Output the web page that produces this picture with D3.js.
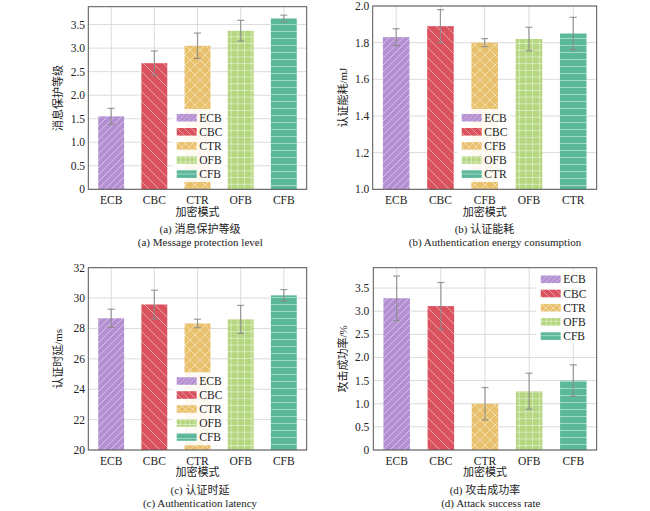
<!DOCTYPE html>
<html><head><meta charset="utf-8">
<script src="https://cdn.jsdelivr.net/npm/d3@7"></script>
<style>
body{margin:0;background:#fff;}
text{font-family:"Liberation Serif","Times New Roman","DejaVu Serif",serif;fill:#222;}
text.cjk{font-family:"Liberation Serif","Times New Roman","Noto Sans CJK SC",serif;}
</style></head><body>
<svg id="chart" width="650" height="511"></svg>
<script>
// ---- data ----
const catsA = ["ECB","CBC","CTR","OFB","CFB"];
const valsA = [1.55, 2.68, 3.05, 3.37, 3.63];
const errsA = [0.17, 0.26, 0.27, 0.22, 0.07];
const ticksA = [0, 0.5, 1.0, 1.5, 2.0, 2.5, 3.0, 3.5];

const catsB = ["ECB","CBC","CFB","OFB","CTR"];
const valsB = [1.83, 1.89, 1.80, 1.82, 1.85];
const errsB = [0.046, 0.09, 0.022, 0.064, 0.088];
const ticksB = [1.0, 1.2, 1.4, 1.6, 1.8, 2.0];

const catsC = ["ECB","CBC","CTR","OFB","CFB"];
const valsC = [28.67, 29.58, 28.33, 28.60, 30.18];
const errsC = [0.60, 0.94, 0.28, 0.92, 0.38];
const ticksC = [20, 22, 24, 26, 28, 30, 32];

const catsD = ["ECB","CBC","CTR","OFB","CFB"];
const valsD = [3.28, 3.11, 1.00, 1.27, 1.50];
const errsD = [0.48, 0.51, 0.35, 0.39, 0.34];
const ticksD = [0, 0.5, 1.0, 1.5, 2.0, 2.5, 3.0, 3.5];

const colors = ["#b48fd1", "#d9525e", "#e9c06c", "#b3d67e", "#5cb89b"];
const hatches = ["fwd", "back", "cross", "grid", "horiz"];

const svg = d3.select("#chart");
const defs = svg.append("defs");

function makePattern(id, color, kind, s, op) {
  const p = defs.append("pattern").attr("id", id).attr("patternUnits", "userSpaceOnUse")
    .attr("width", s).attr("height", s);
  p.append("rect").attr("width", s).attr("height", s).attr("fill", color);
  const g = p.append("g").attr("stroke", "#fff").attr("stroke-opacity", op).attr("stroke-width", 0.9).attr("fill", "none");
  if (kind === "fwd" || kind === "cross") {
    g.append("path").attr("d", `M0,${s} L${s},0 M${-s/2},${s/2} L${s/2},${-s/2} M${s/2},${s*1.5} L${s*1.5},${s/2}`);
  }
  if (kind === "back" || kind === "cross") {
    g.append("path").attr("d", `M0,0 L${s},${s} M${-s/2},${s/2} L${s/2},${s*1.5} M${s/2},${-s/2} L${s*1.5},${s/2}`);
  }
  if (kind === "grid") {
    g.append("path").attr("d", `M${s/2},0 V${s} M0,${s/2} H${s}`);
  }
  if (kind === "horiz") {
    g.append("path").attr("d", `M0,${s/2} H${s}`);
  }
}
const sizes = {fwd: 7, back: 10, cross: 10, grid: 6.7, horiz: 7};
hatches.forEach((h, i) => {
  makePattern("pat" + i, colors[i], h, sizes[h], 0.5);
  makePattern("lpat" + i, colors[i], h, sizes[h] * 0.7, 0.45);
});

function panel(cfg) {
  const {cats, vals, errs, ticks, x0, x1, y0, y1, domain, ylabel, ylabelX, tickX,
         legend, cap1, cap2, capX1, capX2, rowY, fmt} = cfg;
  const g = svg.append("g");
  const x = d3.scaleLinear().domain([-0.53, 4.53]).range([x0, x1]);
  const y = d3.scaleLinear().domain(domain).range([y1, y0]);
  // grid
  g.append("g").selectAll("line").data(ticks).join("line")
    .attr("x1", x0).attr("x2", x1).attr("y1", d => y(d)).attr("y2", d => y(d))
    .attr("stroke", "#dcdcdc").attr("stroke-width", 1);
  g.append("g").selectAll("line").data(cats.map((c, i) => i)).join("line")
    .attr("y1", y0).attr("y2", y1).attr("x1", d => x(d)).attr("x2", d => x(d))
    .attr("stroke", "#dcdcdc").attr("stroke-width", 1);
  // bars
  const bw = x(0.3) - x(0);
  g.append("g").selectAll("rect").data(vals).join("rect")
    .attr("x", (d, i) => x(i) - bw).attr("width", bw * 2)
    .attr("y", d => y(d)).attr("height", d => y(domain[0]) - y(d))
    .attr("fill", (d, i) => `url(#pat${i})`);
  // error bars
  const eg = g.append("g").attr("stroke", "#8a8a8a").attr("stroke-width", 1.2).attr("stroke-opacity", 0.85);
  vals.forEach((v, i) => {
    const cx = x(i);
    eg.append("line").attr("x1", cx).attr("x2", cx).attr("y1", y(v - errs[i])).attr("y2", y(v + errs[i]));
    eg.append("line").attr("x1", cx - 3.5).attr("x2", cx + 3.5).attr("y1", y(v + errs[i])).attr("y2", y(v + errs[i]));
    eg.append("line").attr("x1", cx - 3.5).attr("x2", cx + 3.5).attr("y1", y(v - errs[i])).attr("y2", y(v - errs[i]));
  });
  // legend
  const lg = g.append("g");
  lg.append("rect").attr("x", legend.x).attr("y", legend.y).attr("width", legend.w).attr("height", legend.h)
    .attr("fill", "#fff").attr("fill-opacity", 0.9);
  cats.forEach((c, i) => {
    const ry = legend.y + 8.7 + i * rowY;
    lg.append("rect").attr("x", legend.x + 4.7).attr("y", ry - 3.8).attr("width", 20).attr("height", 7.6)
      .attr("fill", `url(#lpat${i})`);
    lg.append("text").attr("x", legend.x + 27.3).attr("y", ry).attr("dy", "0.35em")
      .attr("font-size", 11.5).text(c);
  });
  // frame
  g.append("rect").attr("x", x0).attr("y", y0).attr("width", x1 - x0).attr("height", y1 - y0)
    .attr("fill", "none").attr("stroke", "#555").attr("stroke-width", 1);
  // y ticks
  g.append("g").selectAll("text").data(ticks).join("text")
    .attr("x", tickX).attr("y", d => y(d)).attr("dy", "0.35em").attr("text-anchor", "end")
    .attr("font-size", 11.5).text(fmt);
  // x ticks
  g.append("g").selectAll("text").data(cats).join("text")
    .attr("x", (d, i) => x(i)).attr("y", y1 + 11).attr("dy", "0.35em").attr("text-anchor", "middle")
    .attr("font-size", 11.5).text(d => d);
  const xc = (x0 + x1) / 2;
  g.append("text").attr("class", "cjk").attr("x", xc).attr("y", y1 + 22.5).attr("dy", "0.35em").attr("text-anchor", "middle")
    .attr("font-size", 11).text("加密模式");
  g.append("text").attr("class", "cjk").attr("x", capX1).attr("y", y1 + 40).attr("dy", "0.35em").attr("text-anchor", "middle")
    .attr("font-size", 11).text(cap1);
  g.append("text").attr("x", capX2).attr("y", y1 + 53.3).attr("dy", "0.35em").attr("text-anchor", "middle")
    .attr("font-size", 11).text(cap2);
  g.append("text").attr("class", "cjk").attr("transform", `translate(${ylabelX},${(y0 + y1) / 2}) rotate(-90)`)
    .attr("dy", "0.35em").attr("text-anchor", "middle").attr("font-size", 11).text(ylabel);
}

const fmt1 = d => d === 0 ? "0" : d3.format(".1f")(d);
panel({cats: catsA, vals: valsA, errs: errsA, ticks: ticksA, x0: 88.3, x1: 306.7, y0: 6.7, y1: 189.3,
  domain: [0, 3.88], ylabel: "消息保护等级", ylabelX: 58.3, tickX: 85,
  legend: {x: 172, y: 109, w: 54, h: 73}, rowY: 14.1, fmt: fmt1,
  cap1: "(a) 消息保护等级", cap2: "(a) Message protection level", capX1: 200, capX2: 200.3});
panel({cats: catsB, vals: valsB, errs: errsB, ticks: ticksB, x0: 372.7, x1: 596.7, y0: 6, y1: 189.3,
  domain: [1.0, 2.0], ylabel: "认证能耗/mJ", ylabelX: 343.3, tickX: 369.3,
  legend: {x: 457, y: 109, w: 54, h: 73}, rowY: 14.1, fmt: d => d3.format(".1f")(d),
  cap1: "(b) 认证能耗", cap2: "(b) Authentication energy consumption", capX1: 484.5, capX2: 495});
panel({cats: catsC, vals: valsC, errs: errsC, ticks: ticksC, x0: 88.3, x1: 306.7, y0: 267.7, y1: 450,
  domain: [20, 32], ylabel: "认证时延/ms", ylabelX: 58.3, tickX: 85,
  legend: {x: 172, y: 372.3, w: 54, h: 73}, rowY: 14, fmt: d => d,
  cap1: "(c) 认证时延", cap2: "(c) Authentication latency", capX1: 200, capX2: 200});
panel({cats: catsD, vals: valsD, errs: errsD, ticks: ticksD, x0: 373.3, x1: 596.7, y0: 267.7, y1: 450,
  domain: [0, 3.94], ylabel: "攻击成功率/%", ylabelX: 343.3, tickX: 369.3,
  legend: {x: 536, y: 270.6, w: 60, h: 73}, rowY: 14.2, fmt: fmt1,
  cap1: "(d) 攻击成功率", cap2: "(d) Attack success rate", capX1: 485, capX2: 490.8});
</script>
</body></html>
